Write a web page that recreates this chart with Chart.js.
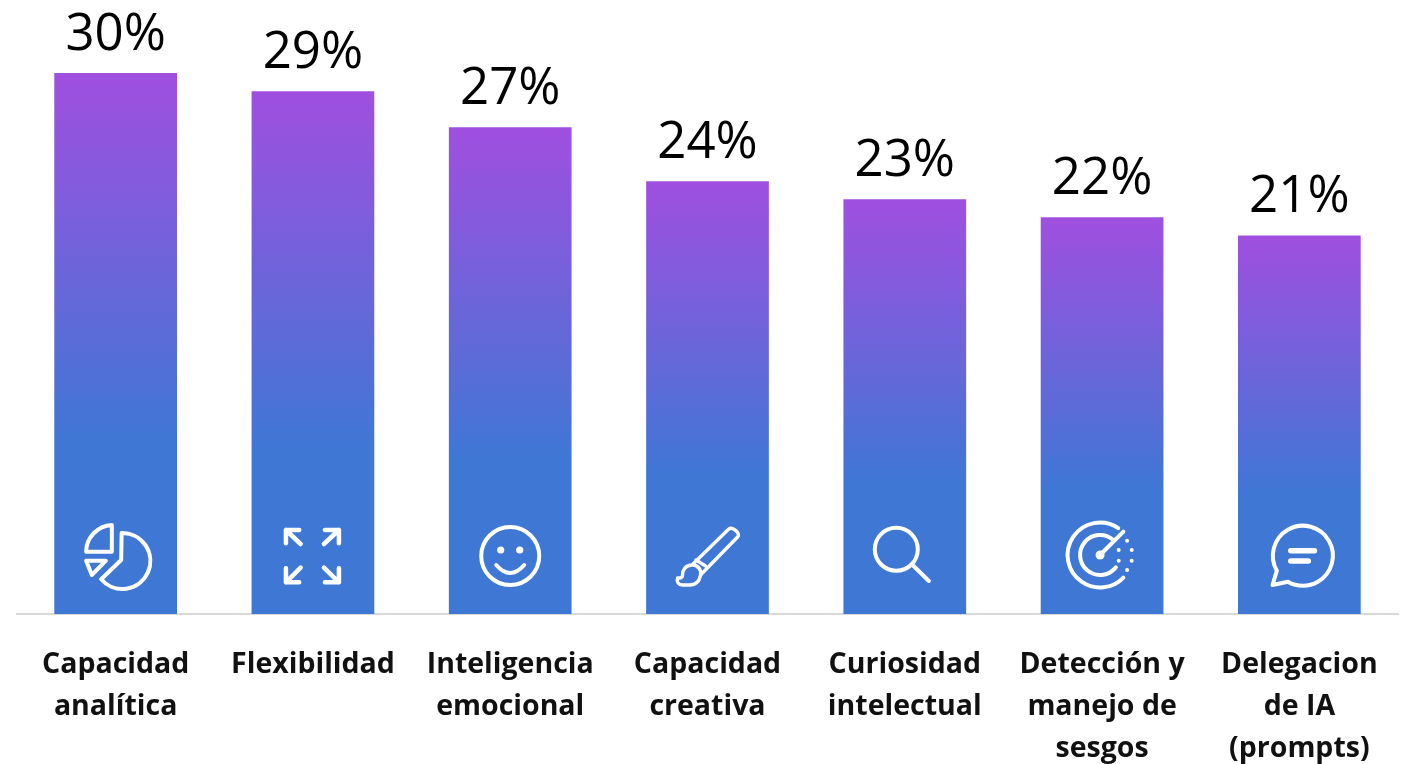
<!DOCTYPE html>
<html lang="es">
<head>
<meta charset="utf-8">
<title>Habilidades</title>
<script src="https://cdn.jsdelivr.net/npm/chart.js@4"></script>
<style>
  html, body { margin: 0; padding: 0; background: #fff; }
  canvas { display: block; }
</style>
</head>
<body>
<canvas id="skillsChart" width="1402" height="764"></canvas>
<script>
const categories = [
  ["Capacidad", "analítica"],
  "Flexibilidad",
  ["Inteligencia", "emocional"],
  ["Capacidad", "creativa"],
  ["Curiosidad", "intelectual"],
  ["Detección y", "manejo de", "sesgos"],
  ["Delegacion", "de IA", "(prompts)"],
];
const percentValues = [30, 29, 27, 24, 23, 22, 21];
const iconNames = ["pie", "expand", "smile", "brush", "search", "radar", "chat"];

const PURPLE = "#a04fdf";
const BLUE = "#3f77d5";

// icons are drawn around (bar centre, base - 54)
const ICONS = {
  pie(ctx) {
    ctx.stroke(new Path2D("M6 -27 A28 28 0 1 1 -14.5 19.3 L5.5 0 Z"));
    ctx.stroke(new Path2D("M-29.5 -8.3 A27 27 0 0 1 -3.8 -35 L-3.8 -8.3 Z"));
    ctx.stroke(new Path2D("M-29.5 0.7 L-9.8 0.7 L-23.8 15 Z"));
  },
  expand(ctx) {
    ctx.lineWidth = 4.5;
    ctx.stroke(new Path2D(
      "M-27 -16.7 L-27 -30 L-13.7 -30 M-27 -30 L-12.3 -16" +
      "M12 -30 L26 -30 L26 -16.7 M26 -30 L11 -16" +
      "M-27 8.3 L-27 22.3 L-13.7 22.3 M-27 22.3 L-12.3 7.7" +
      "M26 8.3 L26 22.3 L12 22.3 M26 22.3 L11 7.7"
    ));
  },
  smile(ctx) {
    ctx.beginPath();
    ctx.arc(0, -4, 29, 0, Math.PI * 2);
    ctx.stroke();
    ctx.stroke(new Path2D("M-14 5 Q0 21 14 5"));
    ctx.beginPath();
    ctx.arc(-9.5, -10, 3.6, 0, Math.PI * 2);
    ctx.arc(9.5, -10, 3.6, 0, Math.PI * 2);
    ctx.fill();
  },
  brush(ctx) {
    ctx.lineWidth = 3.4;
    ctx.stroke(new Path2D(
      "M-15.5 5 L21 -30.7 C25 -34 33 -27 30.3 -23.3 L-7 15" +
      "M-11.6 0 L-2.3 5.7" +
      "M-15.5 5 C-22 5 -25 10 -25 15 C-25 18 -27 18 -30 18 C-31 22 -29 25 -25 25" +
      "L-18 25 C-11 25 -8 21 -7 15 C-6 9 -10 5 -15.5 5"
    ));
  },
  search(ctx) {
    ctx.beginPath();
    ctx.arc(-8.5, -10.7, 21.5, 0, Math.PI * 2);
    ctx.stroke();
    ctx.stroke(new Path2D("M7.8 5 L24.1 21"));
  },
  radar(ctx) {
    const rad = Math.PI / 180;
    ctx.beginPath();
    ctx.arc(-2, -5, 32.5, -56 * rad, 44 * rad, true);
    ctx.stroke();
    ctx.beginPath();
    ctx.arc(-2, -5, 20, -50 * rad, 38 * rad, true);
    ctx.stroke();
    ctx.stroke(new Path2D("M-2 -5 L21.3 -28.3"));
    ctx.beginPath();
    ctx.arc(-2, -5, 4.5, 0, Math.PI * 2);
    ctx.fill();
    [[25, -19.3], [16.6, -10], [29.6, -10], [16.6, 0.7], [29.6, 0.7], [25, 10]].forEach(([x, y]) => {
      ctx.beginPath();
      ctx.arc(x, y, 2, 0, Math.PI * 2);
      ctx.fill();
    });
  },
  chat(ctx) {
    const rad = Math.PI / 180;
    ctx.beginPath();
    ctx.arc(3.5, -4.3, 30, 150 * rad, 120 * rad);
    ctx.lineTo(-26.8, 25);
    ctx.closePath();
    ctx.stroke();
    ctx.lineWidth = 5.5;
    ctx.stroke(new Path2D("M-8.6 -9.3 L15.1 -9.3 M-8.6 1 L9 1"));
  },
};

function barGradient(context) {
  const chart = context.chart;
  if (!chart.chartArea) return BLUE;
  const yScale = chart.scales.y;
  const top = yScale.getPixelForValue(context.raw);
  const base = yScale.getPixelForValue(0);
  const grad = chart.ctx.createLinearGradient(0, top, 0, base);
  grad.addColorStop(0, PURPLE);
  grad.addColorStop(0.68, BLUE);
  grad.addColorStop(1, BLUE);
  return grad;
}

const barExtras = {
  id: "barExtras",
  afterDatasetsDraw(chart) {
    const ctx = chart.ctx;
    const bars = chart.getDatasetMeta(0).data;
    const base = chart.scales.y.getPixelForValue(0);
    bars.forEach((bar, i) => {
      ctx.save();
      ctx.fillStyle = "#000";
      ctx.font = '400 51px "Open Sans"';
      ctx.textAlign = "center";
      ctx.textBaseline = "alphabetic";
      ctx.fillText(percentValues[i] + "%", bar.x, bar.y - 23.5);

      ctx.translate(bar.x, base - 54);
      ctx.strokeStyle = "#fff";
      ctx.fillStyle = "#fff";
      ctx.lineWidth = 4;
      ctx.lineCap = "round";
      ctx.lineJoin = "round";
      ICONS[iconNames[i]](ctx);
      ctx.restore();
    });
  },
};

new Chart(document.getElementById("skillsChart"), {
  type: "bar",
  data: {
    labels: categories,
    datasets: [{
      data: percentValues,
      backgroundColor: barGradient,
      borderWidth: 0,
      categoryPercentage: 0.622,
      barPercentage: 1,
    }],
  },
  options: {
    responsive: false,
    animation: false,
    layout: { padding: { left: 17, right: 4, top: 1, bottom: 0 } },
    plugins: { legend: { display: false }, tooltip: { enabled: false } },
    scales: {
      x: {
        afterFit(scale) { scale.height = 150; },
        border: { color: "#d9d9d9", width: 2 },
        grid: { display: false },
        ticks: {
          autoSkip: false,
          maxRotation: 0,
          padding: 22,
          color: "#111",
          font: { family: '"Open Sans"', size: 28.5, weight: "700", lineHeight: 1.474 },
        },
      },
      y: { display: false, min: 0, max: 34 },
    },
  },
  plugins: [barExtras],
});
</script>
</body>
</html>
